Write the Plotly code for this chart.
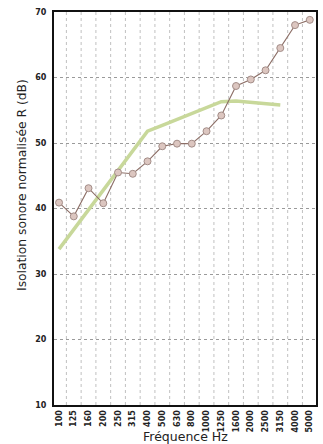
import plotly.graph_objects as go

freqs = ["100", "125", "160", "200", "250", "315", "400", "500", "630", "800",
         "1000", "1250", "1600", "2000", "2500", "3150", "4000", "5000"]
measured = [40.9, 38.8, 43.1, 40.8, 45.5, 45.3, 47.2, 49.5, 49.9, 49.9,
            51.8, 54.2, 58.7, 59.7, 61.1, 64.5, 68.0, 68.8]
ref_freqs = ["100", "125", "160", "200", "250", "315", "400", "500", "630", "800",
             "1000", "1250", "1600", "2000", "2500", "3150"]
reference = [33.8, 36.8, 39.8, 42.8, 45.8, 48.8, 51.8, 52.7, 53.6, 54.5,
             55.4, 56.3, 56.4, 56.2, 56.0, 55.8]
y_ticks = [10, 20, 30, 40, 50, 60, 70]
x_title = "Fréquence Hz"
y_title = "Isolation sonore normalisée R (dB)"

fig = go.Figure()
fig.add_trace(go.Scatter(
    x=ref_freqs, y=reference, mode="lines",
    line=dict(color="#c8d89a", width=3.5), hoverinfo="skip"))
fig.add_trace(go.Scatter(
    x=freqs, y=measured, mode="lines+markers",
    line=dict(color="#8c6e66", width=1.1),
    marker=dict(symbol="circle", size=7, color="#dcc6c0",
                line=dict(color="#a38d88", width=1))))

# vertical dotted gridlines between categories
for i in range(len(freqs) - 1):
    fig.add_shape(type="line", xref="x", yref="paper",
                  x0=i + 0.5, x1=i + 0.5, y0=0, y1=1,
                  line=dict(color="#c0c0c0", width=1, dash="dot"), layer="below")

fig.add_annotation(text=x_title, xref="paper", yref="paper",
                   x=0.5, y=-0.081, xanchor="center", yanchor="middle",
                   showarrow=False, font=dict(size=12.5, family="DejaVu Sans", color="#222222"))
fig.add_annotation(text=y_title, xref="paper", yref="paper",
                   x=-0.122, y=0.56, xanchor="center", yanchor="middle",
                   textangle=-90, showarrow=False,
                   font=dict(size=12.3, family="DejaVu Sans", color="#222222"))

fig.update_layout(
    width=323, height=444,
    margin=dict(l=54, r=7, t=12, b=39),
    paper_bgcolor="white", plot_bgcolor="white",
    showlegend=False,
    font=dict(family="DejaVu Sans", color="#222222"),
    xaxis=dict(
        type="category", range=[-0.34, 17.42], automargin=False,
        tickangle=-90, tickfont=dict(size=8, family="DejaVu Sans", weight="bold"),
        showgrid=False, showline=True, linecolor="#111111", linewidth=2,
        mirror=True, ticks=""),
    yaxis=dict(
        range=[10, 70], tickvals=y_ticks, automargin=False,
        tickfont=dict(size=8, family="DejaVu Sans", weight="bold"),
        showgrid=True, gridcolor="#9a9a9a", griddash="dot", gridwidth=1,
        showline=True, linecolor="#111111", linewidth=2, mirror=True,
        ticks="", zeroline=False, ticklabelstandoff=4),
)

fig.write_html("out.html", config={"displayModeBar": False},
               post_script="document.body.style.margin='0';document.body.style.overflow='hidden';")
